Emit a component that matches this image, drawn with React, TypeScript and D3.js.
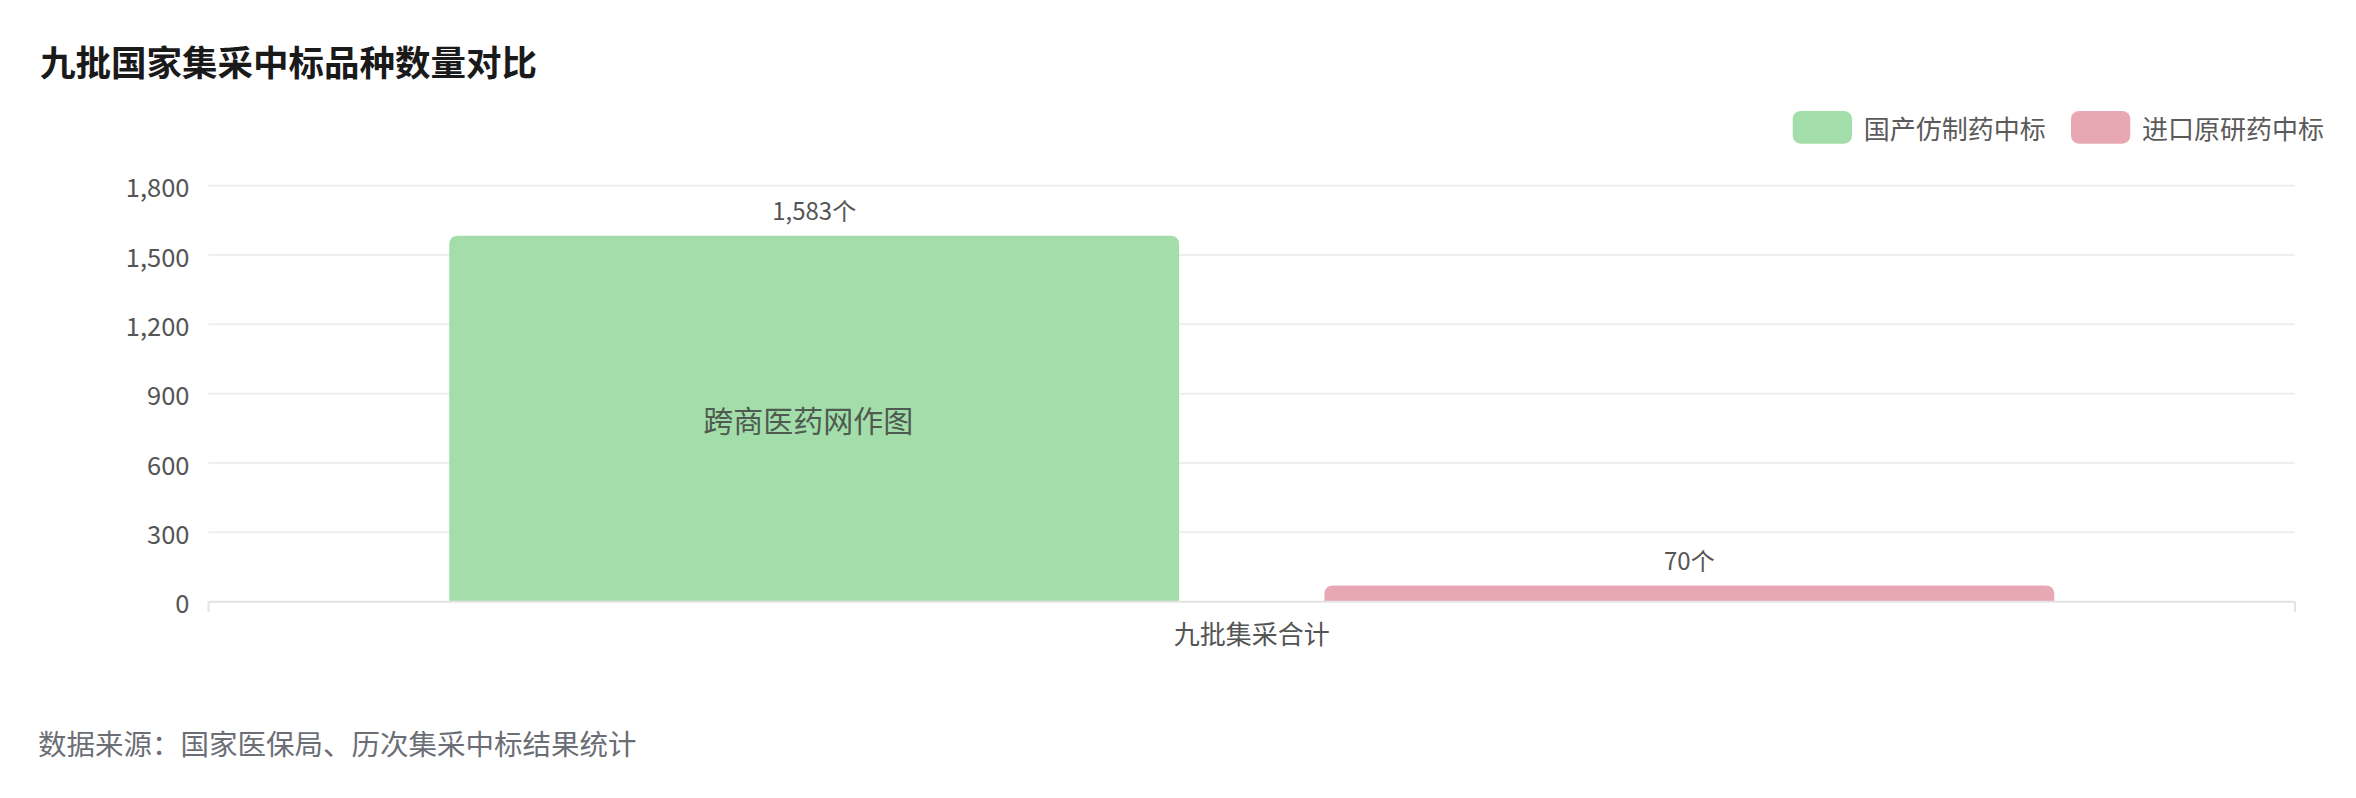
import React from "react";
import * as d3 from "d3";

const categories = ["九批集采合计"];
const seriesNames = ["国产仿制药中标", "进口原研药中标"];
const domesticValues = [1583];
const importedValues = [70];
const yTicks = [0, 300, 600, 900, 1200, 1500, 1800];

const colors = ["#a3deaa", "#e8a8b3"];
const font = "'Noto Sans CJK SC', 'Noto Sans', sans-serif";

const W = 2356;
const H = 798;
const plot = { left: 208.5, right: 2295, top: 185.7, bottom: 601.7 };

// top-rounded bar
function barPath(x: number, y: number, w: number, h: number, r: number) {
  const rr = Math.min(r, h, w / 2);
  return `M${x},${y + h}V${y + rr}Q${x},${y} ${x + rr},${y}H${x + w - rr}Q${x + w},${y} ${x + w},${y + rr}V${y + h}Z`;
}

const App: React.FC = () => {
  const x0 = d3
    .scaleBand<string>()
    .domain(categories)
    .range([plot.left, plot.right])
    .paddingOuter(0.15);
  const x1 = d3
    .scaleBand<string>()
    .domain(seriesNames)
    .range([0, x0.bandwidth()])
    .paddingInner(0.166);
  const y = d3.scaleLinear().domain([0, 1800]).range([plot.bottom, plot.top]);
  const fmt = d3.format(",");

  const series = [domesticValues, importedValues];

  return (
    <div style={{ position: "absolute", left: 0, top: 0 }}>
      <svg width={W} height={H} style={{ display: "block", background: "#fff" }}>
        <text
          x={40}
          y={60}
          dominantBaseline="central"
          fontFamily={font}
          fontSize={35.5}
          fontWeight="bold"
          fill="#1a1a1a"
        >
          九批国家集采中标品种数量对比
        </text>

        {/* legend */}
        {seriesNames.map((name, i) => {
          const lx = 1792.7 + i * 278.3;
          return (
            <g key={name}>
              <rect x={lx} y={111} width={59.3} height={32.7} rx={8} fill={colors[i]} />
              <text
                x={lx + 71}
                y={127.5}
                dominantBaseline="central"
                fontFamily={font}
                fontSize={26}
                fill="#5a5a5a"
              >
                {name}
              </text>
            </g>
          );
        })}

        {/* grid + y labels */}
        {yTicks.map((t) => (
          <g key={t}>
            {t > 0 && (
              <line x1={plot.left} x2={plot.right} y1={y(t)} y2={y(t)} stroke="#efefef" strokeWidth={2} />
            )}
            <text
              x={189.5}
              y={y(t)}
              textAnchor="end"
              dominantBaseline="central"
              fontFamily={font}
              fontSize={25.5}
              fill="#555"
            >
              {fmt(t)}
            </text>
          </g>
        ))}

        {/* bars */}
        {categories.map((c, ci) => (
          <g key={c} transform={`translate(${x0(c)},0)`}>
            {seriesNames.map((s, si) => {
              const v = series[si][ci];
              const bx = x1(s)!;
              const bw = x1.bandwidth();
              const top = y(v);
              return (
                <g key={s}>
                  <path d={barPath(bx, top, bw, plot.bottom - top, 9)} fill={colors[si]} />
                  <text
                    x={bx + bw / 2}
                    y={top - 15.5}
                    textAnchor="middle"
                    fontFamily={font}
                    fontSize={24}
                    fill="#555"
                  >
                    {fmt(v)}个
                  </text>
                </g>
              );
            })}
            <text
              x={x1(seriesNames[0])! + x1.bandwidth() / 2 - 6}
              y={(y(domesticValues[ci]) + plot.bottom) / 2}
              textAnchor="middle"
              dominantBaseline="central"
              fontFamily={font}
              fontSize={30}
              fill="#4f5a51"
            >
              跨商医药网作图
            </text>
          </g>
        ))}

        {/* x axis */}
        <line x1={plot.left} x2={plot.right} y1={plot.bottom} y2={plot.bottom} stroke="#e3e3e3" strokeWidth={2} />
        {[plot.left, plot.right].map((tx) => (
          <line key={tx} x1={tx} x2={tx} y1={plot.bottom} y2={plot.bottom + 10} stroke="#e3e3e3" strokeWidth={2} />
        ))}
        {categories.map((c) => (
          <text
            key={c}
            x={x0(c)! + x0.bandwidth() / 2}
            y={632}
            textAnchor="middle"
            dominantBaseline="central"
            fontFamily={font}
            fontSize={26}
            fill="#555"
          >
            {c}
          </text>
        ))}

        <text
          x={38}
          y={742.5}
          dominantBaseline="central"
          fontFamily={font}
          fontSize={28.5}
          fill="#6b6e75"
        >
          数据来源：国家医保局、历次集采中标结果统计
        </text>
      </svg>
    </div>
  );
};

export default App;
